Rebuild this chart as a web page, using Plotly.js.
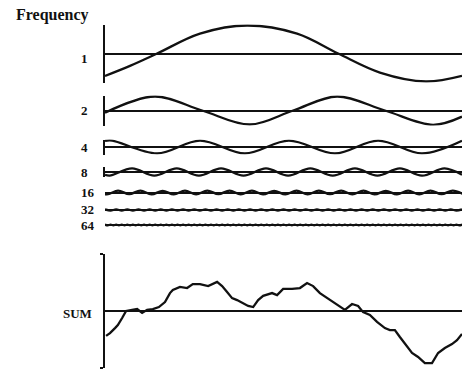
<!DOCTYPE html>
<html>
<head>
<meta charset="utf-8">
<script src="https://cdn.plot.ly/plotly-3.0.1.min.js"></script>
<style>
  html, body { margin: 0; padding: 0; background: #fff; }
  #chart { width: 465px; height: 372px; }
</style>
</head>
<body>
<div id="chart"></div>
<script>
// Octave components of a 1/f signal and their sum.
// t runs along the span from 0 to 1; values are displacements in amplitude units.

// frequency 1
const t1 = [0, 0.070, 0.146, 0.266, 0.398, 0.538, 0.653, 0.770, 0.899, 1.0];
const f1 = [-0.80, -0.44, 0, 0.71, 1.0, 0.71, 0, -0.68, -1.0, -0.80];

// frequency 2
const t2 = [0, 0.140, 0.272, 0.406, 0.527, 0.650, 0.784, 0.919, 1.0];
const f2 = [-0.08, 0.50, 0, -0.50, 0, 0.50, 0, -0.51, -0.22];

// frequency 4
const t4 = [0, 0.020, 0.146, 0.266, 0.392, 0.515, 0.644, 0.765, 0.888, 1.0];
const f4 = [0.22, 0.23, -0.23, 0.23, -0.23, 0.23, -0.23, 0.23, -0.23, 0.22];

// frequency 8
const t8 = [0, 0.013, 0.076, 0.138, 0.201, 0.263, 0.325, 0.388, 0.451,
            0.513, 0.575, 0.638, 0.700, 0.763, 0.826, 0.888, 0.951, 1.0];
const f8 = [-0.10, -0.13, 0.13, -0.13, 0.13, -0.13, 0.13, -0.13, 0.13,
            -0.13, 0.13, -0.13, 0.13, -0.13, 0.13, -0.13, 0.13, -0.10];

// frequency 16: successive crests and troughs
const f16 = [0.07, -0.07, 0.07, -0.06, 0.07, -0.07, 0.06, -0.07, 0.07, -0.07,
             0.07, -0.06, 0.07, -0.07, 0.07, -0.07, 0.06, -0.07, 0.07, -0.07,
             0.07, -0.06, 0.07, -0.07, 0.07, -0.07, 0.06, -0.07, 0.07, -0.07,
             0.07, -0.06, 0.07, -0.07];

// frequency 32: successive crests and troughs
const f32 = [0.02, -0.02, 0.02, -0.02, 0.02, -0.02, 0.02, -0.02, 0.02, -0.02, 0.02, -0.02, 0.02, -0.02, 0.02, -0.02,
             0.02, -0.02, 0.02, -0.02, 0.02, -0.02, 0.02, -0.02, 0.02, -0.02, 0.02, -0.02, 0.02, -0.02, 0.02, -0.02,
             0.02, -0.02, 0.02, -0.02, 0.02, -0.02, 0.02, -0.02, 0.02, -0.02, 0.02, -0.02, 0.02, -0.02, 0.02, -0.02,
             0.02, -0.02, 0.02, -0.02, 0.02, -0.02, 0.02, -0.02, 0.02, -0.02, 0.02, -0.02, 0.02, -0.02, 0.02, -0.02,
             0.02];

// frequency 64: successive crests and troughs
const f64 = [0.01, -0.01, 0.01, -0.01, 0.01, -0.01, 0.01, -0.01, 0.01, -0.01, 0.01, -0.01, 0.01, -0.01, 0.01, -0.01,
             0.01, -0.01, 0.01, -0.01, 0.01, -0.01, 0.01, -0.01, 0.01, -0.01, 0.01, -0.01, 0.01, -0.01, 0.01, -0.01,
             0.01, -0.01, 0.01, -0.01, 0.01, -0.01, 0.01, -0.01, 0.01, -0.01, 0.01, -0.01, 0.01, -0.01, 0.01, -0.01,
             0.01, -0.01, 0.01, -0.01, 0.01, -0.01, 0.01, -0.01, 0.01, -0.01, 0.01, -0.01, 0.01, -0.01, 0.01, -0.01,
             0.01, -0.01, 0.01, -0.01, 0.01, -0.01, 0.01, -0.01, 0.01, -0.01, 0.01, -0.01, 0.01, -0.01, 0.01, -0.01,
             0.01, -0.01, 0.01, -0.01, 0.01, -0.01, 0.01, -0.01, 0.01, -0.01, 0.01, -0.01, 0.01, -0.01, 0.01, -0.01,
             0.01, -0.01, 0.01, -0.01, 0.01, -0.01, 0.01, -0.01, 0.01, -0.01, 0.01, -0.01, 0.01, -0.01, 0.01, -0.01,
             0.01, -0.01, 0.01, -0.01, 0.01, -0.01, 0.01, -0.01, 0.01, -0.01, 0.01, -0.01, 0.01, -0.01, 0.01, -0.01,
             0.01];

// the summed signal
const sumT = [0.003, 0.014, 0.028, 0.036, 0.048, 0.059, 0.076, 0.090, 0.104, 0.118,
              0.134, 0.151, 0.168, 0.182, 0.190, 0.210, 0.230, 0.246, 0.266, 0.289,
              0.314, 0.328, 0.342, 0.356, 0.370, 0.387, 0.401, 0.415, 0.429, 0.443,
              0.468, 0.482, 0.499, 0.524, 0.546, 0.566, 0.583, 0.602, 0.622, 0.639,
              0.658, 0.672, 0.692, 0.709, 0.723, 0.742, 0.762, 0.784, 0.798, 0.812,
              0.826, 0.846, 0.860, 0.877, 0.896, 0.916, 0.933, 0.952, 0.972, 0.986, 1.0];
const sumV = [-0.89, -0.79, -0.61, -0.50, -0.25, 0, 0.04, 0.07, -0.07, 0.04,
              0.07, 0.14, 0.32, 0.64, 0.75, 0.86, 0.82, 0.96, 0.96, 0.89,
              1.04, 0.89, 0.68, 0.46, 0.39, 0.29, 0.18, 0.14, 0.39, 0.54,
              0.64, 0.57, 0.79, 0.79, 0.82, 1.00, 0.89, 0.64, 0.46, 0.32,
              0.14, 0.04, 0.25, 0.18, -0.04, -0.14, -0.39, -0.61, -0.68, -0.68,
              -0.93, -1.29, -1.50, -1.64, -1.86, -1.86, -1.50, -1.32, -1.18, -1.04, -0.82];

const rowLabels = ['1', '2', '4', '8', '16', '32', '64', 'SUM'];

// ---- layout ----
const W = 465, H = 372, L = 105, R = 3;
const PW = W - L - R;
const PX = 28;           // pixels per amplitude unit, shared by every row
const INK = '#111';
const FONT = 'Liberation Serif, Times New Roman, serif';

// each row: centre line and half height in pixels from the top
const rows = [
  { c: 53.5,  h: 29,  axis: true },
  { c: 110.5, h: 15,  axis: true },
  { c: 147,   h: 7.5, axis: true },
  { c: 172,   h: 5,   axis: true },
  { c: 192.5, h: 3.5, axis: false },
  { c: 210,   h: 2.5, axis: false },
  { c: 225,   h: 2.2, axis: false },
  { c: 311,   h: 57,  axis: true, brackets: true }
];

const series = [
  { x: t1, y: f1 },
  { x: t2, y: f2 },
  { x: t4, y: f4 },
  { x: t8, y: f8 },
  { x0: -0.026, dx: 1 / 32, y: f16 },
  { x0: 0, dx: 1 / 64, y: f32 },
  { x0: 0, dx: 1 / 128, y: f64 },
  { x: sumT, y: sumV }
];

const axName = i => (i === 0 ? 'y' : 'y' + (i + 1));
const axKey = i => (i === 0 ? 'yaxis' : 'yaxis' + (i + 1));

const traces = series.map((s, i) => Object.assign({
  type: 'scatter',
  mode: 'lines',
  xaxis: 'x',
  yaxis: axName(i),
  hoverinfo: 'skip',
  line: { color: INK, width: 2.3, shape: i < 7 ? 'spline' : 'linear', smoothing: 1 }
}, s));

const layout = {
  width: W,
  height: H,
  margin: { l: L, r: R, t: 0, b: 0, pad: 0 },
  paper_bgcolor: '#fff',
  plot_bgcolor: '#fff',
  showlegend: false,
  xaxis: { domain: [0, 1], range: [0, 1], visible: false, fixedrange: true },
  annotations: []
};

rows.forEach((r, i) => {
  const lim = r.h / PX;
  const ax = {
    domain: [1 - (r.c + r.h) / H, 1 - (r.c - r.h) / H],
    range: [-lim, lim],
    anchor: 'x',
    fixedrange: true,
    showgrid: false,
    showticklabels: false,
    zeroline: true,
    zerolinecolor: INK,
    zerolinewidth: 2,
    showline: r.axis,
    linecolor: INK,
    linewidth: 2,
    ticks: ''
  };
  if (r.brackets) {
    ax.ticks = 'outside';
    ax.tickmode = 'array';
    ax.tickvals = [-lim, lim];
    ax.ticklen = 3;
    ax.tickwidth = 2;
    ax.tickcolor = INK;
  }
  layout[axKey(i)] = ax;

  const isSum = rowLabels[i] === 'SUM';
  layout.annotations.push({
    xref: 'paper',
    yref: axName(i),
    x: isSum ? (94 - L) / PW : (79 - L) / PW,
    y: 0,
    xanchor: isSum ? 'right' : 'left',
    yanchor: 'middle',
    yshift: i === 0 ? -5 : (isSum ? -2 : 0),
    text: rowLabels[i],
    showarrow: false,
    font: { family: FONT, size: 13, color: INK, weight: 700 }
  });
});

layout.annotations.push({
  xref: 'paper',
  yref: 'paper',
  x: (14 - L) / PW,
  y: 1 - 15 / H,
  xanchor: 'left',
  yanchor: 'middle',
  text: 'Frequency',
  showarrow: false,
  font: { family: FONT, size: 16, color: INK, weight: 700 }
});

Plotly.newPlot('chart', traces, layout, { displayModeBar: false, staticPlot: true });
</script>
</body>
</html>
